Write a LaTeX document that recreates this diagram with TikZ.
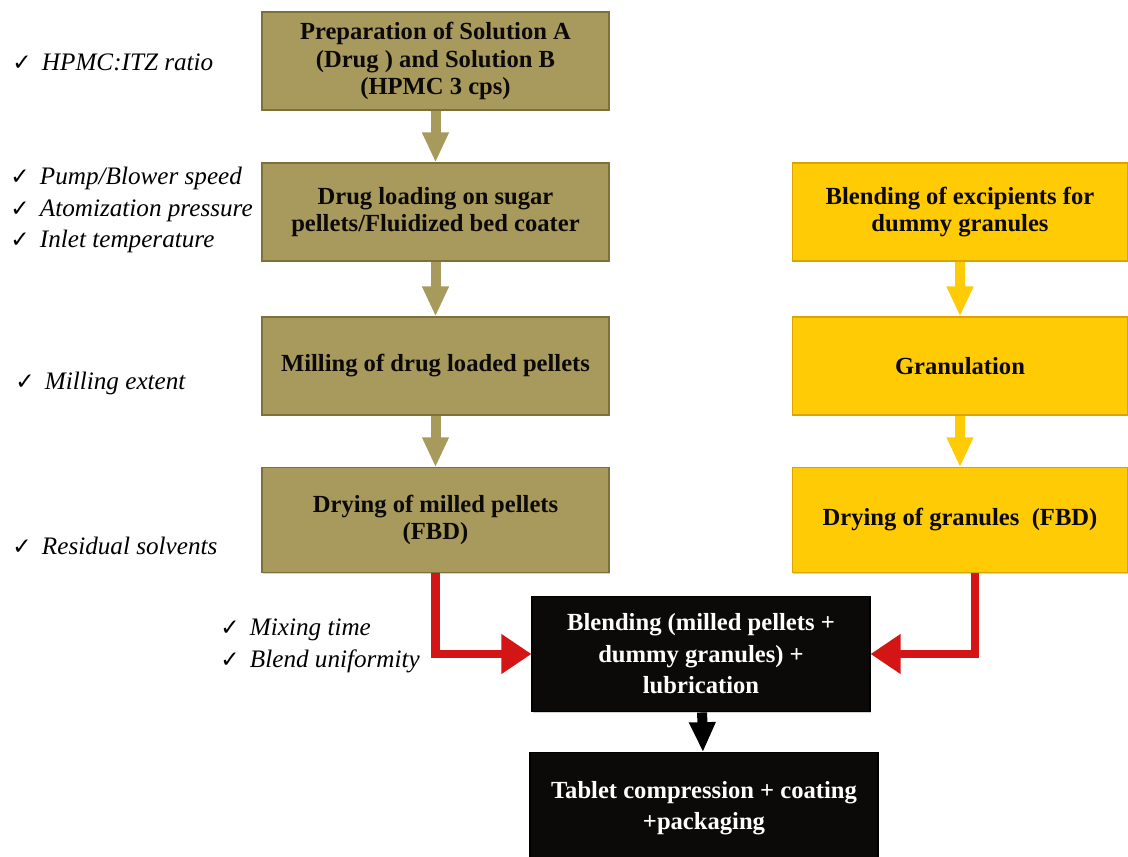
\documentclass[tikz,border=0pt]{standalone}
\usepackage{fontspec}
\setmainfont{Liberation Serif}
\newfontfamily\symfont{DejaVu Sans}
\usepackage{tikz}
\usetikzlibrary{arrows.meta,shadows}
\definecolor{flowOlive}{HTML}{A89A5C}
\definecolor{flowOliveEdge}{HTML}{7D7038}
\definecolor{flowGold}{HTML}{FFCB05}
\definecolor{flowGoldEdge}{HTML}{D9A300}
\definecolor{flowInk}{HTML}{0C0A08}
\definecolor{flowRed}{HTML}{D41515}
\newcommand{\tick}{\makebox[16pt][l]{\symfont\fontsize{12.5}{17}\selectfont ✓}}
\tikzset{
    flow/box/.style={
        rectangle, line width=0.6pt, align=center,
        font=\fontsize{13.3}{14.8}\selectfont\bfseries, text=flowInk,
        minimum width=6.59cm, minimum height=1.86cm,
        drop shadow={shadow xshift=0.6pt, shadow yshift=-0.8pt, opacity=0.35}
    },
    flow/olive/.style={
        flow/box, draw=flowOliveEdge, fill=flowOlive
    },
    flow/yellow/.style={
        flow/box, draw=flowGoldEdge, fill=flowGold, minimum width=6.38cm
    },
    flow/dark/.style={
        flow/box, draw=black, fill=flowInk, text=white,
        font=\fontsize{13.3}{17}\selectfont\bfseries
    },
    flow/arrow/.style={
        line width=0.19cm, -{Triangle[length=0.57cm,width=0.47cm]}
    },
    flow/join arrow/.style={
        line width=0.16cm, draw=flowRed, line join=miter,
        -{Triangle[length=0.57cm,width=0.72cm]}
    },
    flow/note/.style={
        anchor=west, align=left, inner sep=0pt,
        font=\fontsize{13.6}{17}\selectfont\itshape
    }
}
\begin{document}
\begin{tikzpicture}[x=0.019cm, y=-0.019cm]
    \useasboundingbox (0,0) rectangle (1128,856);

    % drug branch
    \node[flow/olive] (prep) at (435.5,61)
        {Preparation of Solution A\\(Drug ) and Solution B\\(HPMC 3 cps)};
    \node[flow/olive] (loading) at (435.5,212)
        {Drug loading on sugar\\pellets/Fluidized bed coater};
    \node[flow/olive] (milling) at (435.5,366)
        {Milling of drug loaded pellets};
    \node[flow/olive, minimum height=1.98cm] (drying) at (435.5,520)
        {Drying of milled pellets\\(FBD)};

    % dummy granule branch
    \node[flow/yellow] (excip) at (960,212)
        {Blending of excipients for\\dummy granules};
    \node[flow/yellow] (granul) at (960,366) {Granulation};
    \node[flow/yellow, minimum height=1.98cm] (drygran) at (960,520)
        {Drying of granules\ \ (FBD)};

    % common steps
    \node[flow/dark, minimum width=6.42cm, minimum height=2.2cm] (blend) at (701,654)
        {Blending (milled pellets +\\dummy granules) +\\lubrication};
    \node[flow/dark, minimum width=6.61cm, minimum height=2.1cm] (tablet) at (704,808)
        {Tablet compression + coating\\+packaging};

    % critical parameters
    \node[flow/note] (n1) at (12,62) {\tick HPMC:ITZ ratio};
    \node[flow/note] (n2) at (10,210)
        {\tick Pump/Blower speed\\\tick Atomization pressure\\\tick Inlet temperature};
    \node[flow/note] (n3) at (15,383) {\tick Milling extent};
    \node[flow/note] (n4) at (12,546) {\tick Residual solvents};
    \node[flow/note] (n5) at (220,646) {\tick Mixing time\\\tick Blend uniformity};

    \draw[flow/arrow, draw=flowOlive] (prep) -- (loading);
    \draw[flow/arrow, draw=flowOlive] (loading) -- (milling);
    \draw[flow/arrow, draw=flowOlive] (milling) -- (drying);
    \draw[flow/arrow, draw=flowGold] (excip) -- (granul);
    \draw[flow/arrow, draw=flowGold] (granul) -- (drygran);
    \draw[flow/join arrow] (drying.south) |- (blend.west);
    \draw[flow/join arrow] ([xshift=8]drygran.south) |- (blend.east);
    \draw[flow/arrow, draw=black] (blend) -- (tablet);
\end{tikzpicture}
\end{document}
